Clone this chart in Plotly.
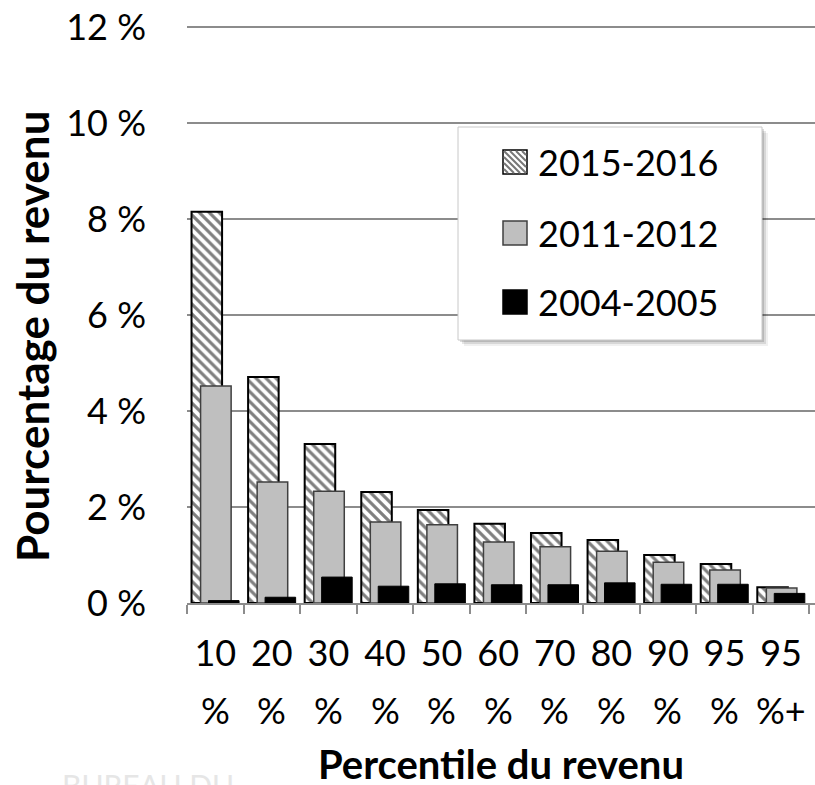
import plotly.graph_objects as go

# Percentile du revenu (catégories) et séries en % du revenu
categories = ["10 %", "20 %", "30 %", "40 %", "50 %", "60 %", "70 %", "80 %", "90 %", "95 %", "95 %+"]
tick_top = ["10", "20", "30", "40", "50", "60", "70", "80", "90", "95", "95"]
tick_bottom = ["%", "%", "%", "%", "%", "%", "%", "%", "%", "%", "%+"]

val_2015_2016 = [8.15, 4.71, 3.31, 2.31, 1.94, 1.65, 1.46, 1.31, 1.00, 0.81, 0.33]
val_2011_2012 = [4.52, 2.52, 2.33, 1.69, 1.63, 1.27, 1.17, 1.08, 0.85, 0.69, 0.31]
val_2004_2005 = [0.05, 0.12, 0.54, 0.35, 0.40, 0.38, 0.38, 0.42, 0.39, 0.39, 0.20]

series_names = ["2015-2016", "2011-2012", "2004-2005"]

y_tick_vals = [0, 2, 4, 6, 8, 10, 12]
y_tick_text = ["0 %", "2 %", "4 %", "6 %", "8 %", "10 %", "12 %"]

FONT = "Lato, 'Open Sans', sans-serif"
GRID = "#8c8c8c"
W, H = 815, 785
L, R, T, B = 187, 0, 22, 182
PW, PH = W - L - R, H - T - B
PX_PER_UNIT = 48.0  # 1 % = 48 px


def px_x(x):
    return (x - L) / PW


def px_y(y):
    return (H - B - y) / PH


fig = go.Figure()

fig.add_trace(go.Bar(
    x=categories, y=val_2015_2016, name=series_names[0],
    offset=-0.42, width=0.54,
    marker=dict(color="white", line=dict(color="black", width=2),
                pattern=dict(shape="\\", fgcolor="black", bgcolor="white",
                             size=7, solidity=0.45)),
))
fig.add_trace(go.Bar(
    x=categories, y=val_2011_2012, name=series_names[1],
    offset=-0.26, width=0.54,
    marker=dict(color="#bfbfbf", line=dict(color="#404040", width=1.5)),
))
fig.add_trace(go.Bar(
    x=categories, y=val_2004_2005, name=series_names[2],
    offset=-0.12, width=0.54,
    marker=dict(color="black", line=dict(color="black", width=1)),
))

# second line of x tick labels
for c, t in zip(categories, tick_bottom):
    fig.add_annotation(x=c, xref="x", y=px_y(710), yref="paper",
                       text=t, showarrow=False, yanchor="middle",
                       font=dict(size=36, color="black", family=FONT))

# axis titles
fig.add_annotation(x=0.5, xref="paper", y=px_y(764), yref="paper",
                   text="<b>Percentile du revenu</b>", showarrow=False,
                   yanchor="middle", font=dict(size=40, color="black", family=FONT))
fig.add_annotation(x=px_x(32), xref="paper", y=px_y(337), yref="paper",
                   text="<b>Pourcentage du revenu</b>", showarrow=False, textangle=-90,
                   xanchor="center", yanchor="middle",
                   font=dict(size=44, color="black", family=FONT))

# faint watermark at bottom left
fig.add_annotation(x=px_x(60), xref="paper", y=px_y(765), yref="paper",
                   text="BUREAU DU", showarrow=False, xanchor="left", yanchor="top",
                   font=dict(size=30, color="#e6e6e6", family=FONT))

# legend box with soft shadow
for off, op in [(6, 0.06), (4, 0.10), (2, 0.14)]:
    fig.add_shape(type="rect", xref="paper", yref="paper",
                  x0=px_x(458 + off), x1=px_x(762 + off),
                  y0=px_y(340 + off), y1=px_y(127 + off),
                  fillcolor=f"rgba(0,0,0,{op})", line_width=0, layer="above")
fig.add_shape(type="rect", xref="paper", yref="paper",
              x0=px_x(458), x1=px_x(762), y0=px_y(340), y1=px_y(127),
              fillcolor="white", line=dict(color="#c8c8c8", width=1), layer="above")

# legend entries: symbol squares + labels
sym_x0, sym_size = 503, 24
entry_y = [162, 233, 302]
sym_fill = ["white", "#bfbfbf", "black"]
sym_line = ["black", "#404040", "black"]
for name, yc, fill, line in zip(series_names, entry_y, sym_fill, sym_line):
    y0, y1 = yc - sym_size / 2, yc + sym_size / 2
    fig.add_shape(type="rect", xref="paper", yref="paper",
                  x0=px_x(sym_x0), x1=px_x(sym_x0 + sym_size),
                  y0=px_y(y1), y1=px_y(y0),
                  fillcolor=fill, line=dict(color=line, width=1.5), layer="above")
    if fill == "white":
        # diagonal hatching inside the square
        for d in range(-18, 24, 6):
            ax0, ay0 = sym_x0 + max(d, 0), y0 + max(-d, 0)
            ax1, ay1 = sym_x0 + sym_size - max(-d, 0), y1 - max(d, 0)
            fig.add_shape(type="line", xref="paper", yref="paper",
                          x0=px_x(ax0 + 1), y0=px_y(ay0 + 1),
                          x1=px_x(ax1 - 1), y1=px_y(ay1 - 1),
                          line=dict(color="#777777", width=2), layer="above")
    fig.add_annotation(x=px_x(536), xref="paper", y=px_y(yc), yref="paper",
                       text=name, showarrow=False, xanchor="left", yanchor="middle",
                       font=dict(size=36, color="black", family=FONT))

fig.update_layout(
    width=W, height=H,
    margin=dict(l=L, r=R, t=T, b=B),
    paper_bgcolor="white", plot_bgcolor="white",
    barmode="overlay",
    font=dict(family=FONT, color="black", size=36),
    showlegend=False,
    xaxis=dict(
        type="category", range=[-0.5, 10.6],
        tickvals=categories, ticktext=tick_top,
        tickson="boundaries", ticks="outside", ticklen=9, tickcolor=GRID, tickwidth=1.5,
        showline=True, linecolor=GRID, linewidth=1.5,
        showgrid=False, ticklabelstandoff=18,
        tickfont=dict(size=36, family=FONT, color="black"),
    ),
    yaxis=dict(
        range=[0, PH / PX_PER_UNIT], tickvals=y_tick_vals, ticktext=y_tick_text,
        showgrid=True, gridcolor=GRID, gridwidth=1.5,
        zeroline=False, showline=False, ticks="",
        ticklabelstandoff=40,
        tickfont=dict(size=36, family=FONT, color="black"),
    ),
)

fig.write_html("out.html", config={"displayModeBar": False},
               post_script="document.body.style.margin='0';")
